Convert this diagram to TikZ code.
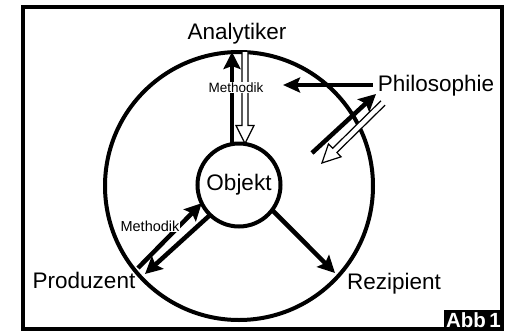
\documentclass[tikz,border=0pt]{standalone}
\usepackage{fontspec}
\setmainfont{Liberation Sans}
\usetikzlibrary{arrows.meta}
\begin{document}
\begin{tikzpicture}[x=1pt,y=-1pt,
  lbl/.style={font=\fontsize{22.5}{26}\selectfont, inner sep=0pt, anchor=base},
  smalllbl/.style={inner sep=0.6pt, anchor=base, fill=white},
  ring/.style={draw, circle, line width=4pt, inner sep=0pt, outer sep=0pt},
  blk/.style={line width=4.5pt, -{Stealth[length=17pt,width=17pt,inset=3pt]}},
  holl/.style={line width=1.2pt, fill=white, line join=miter},
]
\fill[white] (0,0) rectangle (507,333);
\useasboundingbox (0,0) rectangle (507,333);
% frame
\draw[line width=3.5pt] (23,7) rectangle (502,329);
% circles
\node[ring, minimum size=268pt] (outer) at (239,186) {};
\node[ring, minimum size=83pt, font=\fontsize{22.5}{26}\selectfont] (obj) at (239,185) {Objekt};
% labels
\node[lbl] (ana) at (237,39) {Analytiker};
\node[lbl] (phil) at (436,91) {Philosophie};
\node[lbl] (prod) at (84,288) {Produzent};
\node[lbl] (rez) at (394,289) {Rezipient};
% coordinates
\coordinate (phtip) at (283,85);
\coordinate (bs) at (312,153);
\coordinate (be) at (376,94);
\coordinate (hs) at (383,103);
\coordinate (p1s) at (138,268);
\coordinate (p2e) at (145,274);
\coordinate (rtip) at (335,273);
% Analytiker arrows
\draw[blk] ([xshift=-7pt]obj.north) -- ([xshift=-7pt]outer.north);
\begin{scope}[shift={([xshift=6pt]outer.north)}, rotate=-90]
  \draw[holl] (0pt,3pt) -- (73.5pt,3pt) -- (73.5pt,9pt) -- (91.5pt,0pt) -- (73.5pt,-9pt) -- (73.5pt,-3pt) -- (0pt,-3pt);
\end{scope}
% Philosophie arrows
\draw[line width=4pt, -{Stealth[length=17pt,width=15pt,inset=3pt]}, shorten <=5pt] (phil.west |- phtip) -- (phtip);
\draw[blk] (bs) -- (be);
\begin{scope}[shift={(hs)}, rotate=-135.5]
  \draw[holl] (0pt,3pt) -- (67.6pt,3pt) -- (67.6pt,9pt) -- (85.6pt,0pt) -- (67.6pt,-9pt) -- (67.6pt,-3pt) -- (0pt,-3pt);
\end{scope}
% Produzent arrows
\draw[blk] (p1s) -- (obj.-154);
\draw[blk] (obj.-134) -- (p2e);
% Rezipient arrow
\draw[blk] (obj.-37) -- (rtip);
% Methodik labels
\node[smalllbl, font=\fontsize{13.5}{15}\selectfont] (m1) at (236,92) {Methodik};
\node[smalllbl, font=\fontsize{14.5}{17}\selectfont] (m2) at (150,231) {Methodik};
% Abb1 tag
\node[fill=black, text=white, font=\bfseries\fontsize{20.5}{22}\selectfont, minimum width=60pt, minimum height=21pt, inner sep=0pt] (abb) at (473.5,320) {Abb\,1};
\end{tikzpicture}
\end{document}
